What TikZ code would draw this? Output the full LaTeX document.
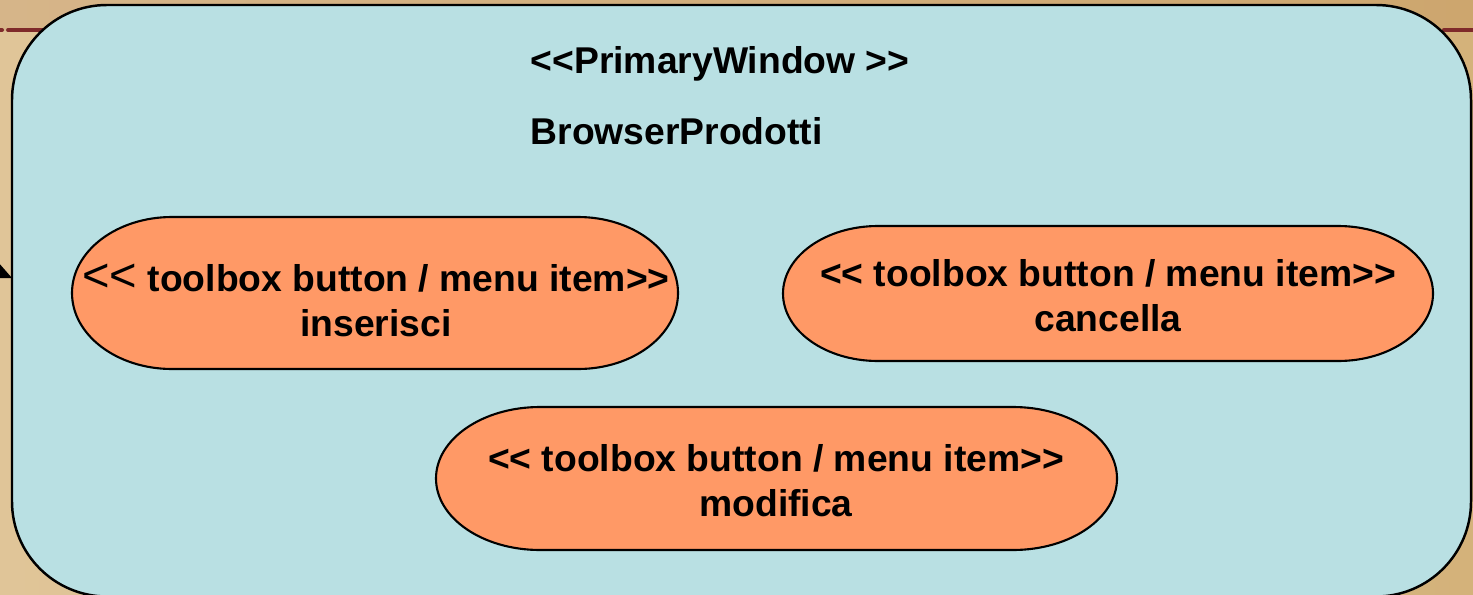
\documentclass[tikz,border=0pt]{standalone}
\usepackage{fontspec}
\setmainfont{Liberation Sans}

\definecolor{windowblue}{HTML}{B9E0E3}
\definecolor{itemorange}{HTML}{FF9966}
\definecolor{deskleft}{HTML}{E0C598}
\definecolor{deskright}{HTML}{D4B27A}
\definecolor{bandleft}{HTML}{D6B589}
\definecolor{bandright}{HTML}{CDA66E}
\definecolor{rulered}{HTML}{7F2A2A}

\newcommand{\itemfont}{\fontsize{10.6}{12.8}\selectfont\bfseries}
% flat-topped item with elliptic ends: centre x, centre y, half width, half height, end radius
\newcommand{\pill}[5]{({#1-#3+#5},{#2-#4}) -- ({#1+#3-#5},{#2-#4})
    arc[start angle=-90, end angle=90, x radius=#5, y radius=#4]
    -- ({#1-#3+#5},{#2+#4})
    arc[start angle=90, end angle=270, x radius=#5, y radius=#4] -- cycle}

\tikzset{
  item/.style={draw=black, line width=0.6pt, fill=itemorange},
  itemtext/.style={align=center, inner sep=0pt, font=\itemfont},
  wintext/.style={anchor=west, inner sep=0pt, font=\itemfont}
}

\begin{document}
\begin{tikzpicture}[x=0.01cm,y=-0.01cm]
    {
    \def\desk{(0,0) rectangle (1473,594)}
    \def\topband{(0,0) rectangle (1473,30)}
    \def\window{(12,5) rectangle (1471,596.5)}

    \useasboundingbox \desk;
    \shade[left color=deskleft, right color=deskright] \desk;
    \shade[left color=bandleft, right color=bandright] \topband;
    \draw[rulered, line width=1.1pt, line cap=round, dash pattern=on 0.35cm off 0.06cm] (-33,30) -- (1480,30);
    \fill[black] (-2,262) -- (12,278) -- (-2,278) -- cycle;

    \filldraw[fill=windowblue, draw=black, line width=0.7pt, rounded corners=0.95cm] \window;

    \node[wintext] (stereo) at (530,64) {<{}<PrimaryWindow >{}>};
    \node[wintext] (winname) at (530,131) {BrowserProdotti};

    \filldraw[item] \pill{375}{293}{303}{76}{100};
    \filldraw[item] \pill{1108}{293.5}{325}{67.5}{95};
    \filldraw[item] \pill{776.5}{478.5}{340.5}{71.5}{104};

    \node[itemtext] (inserisci) at (376,300) {{\mdseries\fontsize{13.4}{12.8}\selectfont<{}<} toolbox button / menu item>{}>\\inserisci};
    \node[itemtext] (cancella) at (1108,296) {<{}< toolbox button / menu item>{}>\\cancella};
    \node[itemtext] (modifica) at (776,481) {<{}< toolbox button / menu item>{}>\\modifica};
}
\end{tikzpicture}
\end{document}
